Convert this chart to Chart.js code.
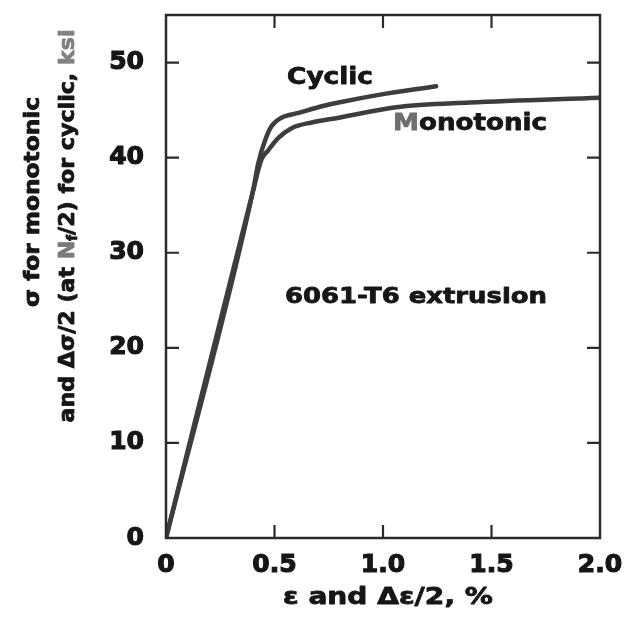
<!DOCTYPE html>
<html>
<head>
<meta charset="utf-8">
<script src="https://cdn.jsdelivr.net/npm/chart.js@4"></script>
<style>
  html, body { margin: 0; padding: 0; background: #fff; }
  #wrap { width: 637px; height: 623px; }
</style>
</head>
<body>
<div id="wrap"><canvas id="c" width="637" height="623"></canvas></div>
<script>
// Strain (%) and stress (ksi) for 6061-T6 extrusion
const monoStrain   = [0, 0.40, 0.44, 0.472, 0.519, 0.579, 0.671, 0.796, 1.06, 1.40, 2.0];
const monoStress   = [0, 36.4, 39.8, 40.8, 42.1, 43.1, 43.7, 44.2, 45.3, 45.8, 46.3];
const cyclicStrain = [0, 0.40, 0.426, 0.458, 0.486, 0.532, 0.611, 0.718, 0.796, 0.981, 1.245];
const cyclicStress = [0, 36.4, 39.5, 41.9, 43.3, 44.2, 44.7, 45.4, 45.8, 46.6, 47.5];

const xTickValues = [0, 0.5, 1.0, 1.5, 2.0];
const xTickLabels = ['0', '0.5', '1.0', '1.5', '2.0'];
const yTickValues = [0, 10, 20, 30, 40, 50];
const yTickLabels = ['0', '10', '20', '30', '40', '50'];

const INK = '#161616';
const FRAME = '#2b2b2b';
const CURVE = '#3d3d3d';
const FONT = '"DejaVu Sans", sans-serif';

function pts(xs, ys) { return xs.map((x, i) => ({ x: x, y: ys[i] })); }

// Draws a run of text pieces, stretched horizontally to a given total width
function drawRuns(ctx, runs, cx, cy, size, targetW, rotate) {
  ctx.save();
  ctx.translate(cx, cy);
  if (rotate) ctx.rotate(-Math.PI / 2);
  let total = 0;
  runs.forEach(r => {
    const s = size * (r.scale || 1);
    ctx.font = 'bold ' + s + 'px ' + FONT;
    r.w = ctx.measureText(r.t).width;
    total += r.w;
  });
  const k = targetW / total;
  ctx.scale(k, 1);
  let x = -total / 2;
  ctx.textBaseline = 'middle';
  ctx.textAlign = 'left';
  ctx.lineJoin = 'round';
  runs.forEach(r => {
    const s = size * (r.scale || 1);
    ctx.font = 'bold ' + s + 'px ' + FONT;
    ctx.fillStyle = r.c || INK;
    ctx.strokeStyle = r.c || INK;
    ctx.lineWidth = 0.8;
    ctx.fillText(r.t, x, r.dy || 0);
    ctx.strokeText(r.t, x, r.dy || 0);
    x += r.w;
  });
  ctx.restore();
}

const framePlugin = {
  id: 'frame',
  afterDatasetsDraw(chart) {
    const { ctx, chartArea: a, scales } = chart;
    const xs = scales.x, ys = scales.y;
    ctx.save();
    ctx.strokeStyle = FRAME;
    ctx.lineWidth = 2.5;
    ctx.strokeRect(a.left, a.top, a.right - a.left, a.bottom - a.top);
    ctx.lineWidth = 2.2;
    const L = 13;
    ctx.beginPath();
    [0.5, 1.0, 1.5].forEach(v => {
      const px = xs.getPixelForValue(v);
      ctx.moveTo(px, a.bottom); ctx.lineTo(px, a.bottom - L);
      ctx.moveTo(px, a.top); ctx.lineTo(px, a.top + L);
    });
    [10, 20, 30, 40, 50].forEach(v => {
      const py = ys.getPixelForValue(v);
      ctx.moveTo(a.left, py); ctx.lineTo(a.left + L, py);
      ctx.moveTo(a.right, py); ctx.lineTo(a.right - L, py);
    });
    ctx.stroke();
    ctx.restore();
  },
  afterDraw(chart) {
    const { ctx } = chart;
    // curve labels and material note
    drawRuns(ctx, [{ t: 'Cyclic' }], 330, 78, 23, 86);
    drawRuns(ctx, [{ t: 'M', c: '#6e6e6e' }, { t: 'onotonic' }], 470, 124, 23, 154);
    drawRuns(ctx, [{ t: '6061-T6 extrusion' }], 416, 298, 21, 262);
    // axis titles
    drawRuns(ctx, [{ t: 'ε and Δε/2, %' }], 388, 598, 23, 210);
    drawRuns(ctx, [{ t: 'σ for monotonic' }], 33, 202, 22, 210, true);
    drawRuns(ctx, [
      { t: 'and Δσ/2 (at ' },
      { t: 'N', c: '#7a7a7a' },
      { t: 'f', scale: 0.6, dy: 6 },
      { t: '/2) for cyclic, ' },
      { t: 'ksi', c: '#808080' }
    ], 68, 226, 22, 393, true);
  }
};

new Chart(document.getElementById('c'), {
  type: 'scatter',
  data: {
    datasets: [
      {
        label: 'Monotonic',
        data: pts(monoStrain, monoStress),
        showLine: true,
        borderColor: CURVE,
        borderWidth: 4.5,
        pointRadius: 0,
        cubicInterpolationMode: 'monotone',
        borderCapStyle: 'round',
        borderJoinStyle: 'round'
      },
      {
        label: 'Cyclic',
        data: pts(cyclicStrain, cyclicStress),
        showLine: true,
        borderColor: CURVE,
        borderWidth: 4.5,
        pointRadius: 0,
        cubicInterpolationMode: 'monotone',
        borderCapStyle: 'round',
        borderJoinStyle: 'round'
      }
    ]
  },
  options: {
    responsive: false,
    animation: false,
    devicePixelRatio: 1,
    layout: { padding: { top: 15, right: 37, left: 0, bottom: 0 } },
    plugins: { legend: { display: false }, tooltip: { enabled: false } },
    scales: {
      x: {
        type: 'linear',
        min: 0, max: 2.0,
        afterFit(s) { s.height = 85; s.paddingLeft = 0; s.paddingRight = 0; },
        afterBuildTicks(s) { s.ticks = xTickValues.map(v => ({ value: v })); },
        grid: { display: false, drawTicks: false },
        border: { display: false },
        ticks: {
          padding: 12,
          color: INK,
          textStrokeColor: INK,
          textStrokeWidth: 1.2,
          font: { family: FONT, size: 25, weight: 'bold' },
          callback: (v) => xTickLabels[xTickValues.indexOf(v)]
        }
      },
      y: {
        type: 'linear',
        min: 0, max: 55,
        afterFit(s) { s.width = 166; s.paddingTop = 0; s.paddingBottom = 0; },
        afterBuildTicks(s) { s.ticks = yTickValues.map(v => ({ value: v })); },
        grid: { display: false, drawTicks: false },
        border: { display: false },
        ticks: {
          padding: 22,
          color: INK,
          textStrokeColor: INK,
          textStrokeWidth: 1.2,
          font: { family: FONT, size: 25, weight: 'bold' },
          callback: (v) => yTickLabels[yTickValues.indexOf(v)]
        }
      }
    }
  },
  plugins: [framePlugin]
});
</script>
</body>
</html>
